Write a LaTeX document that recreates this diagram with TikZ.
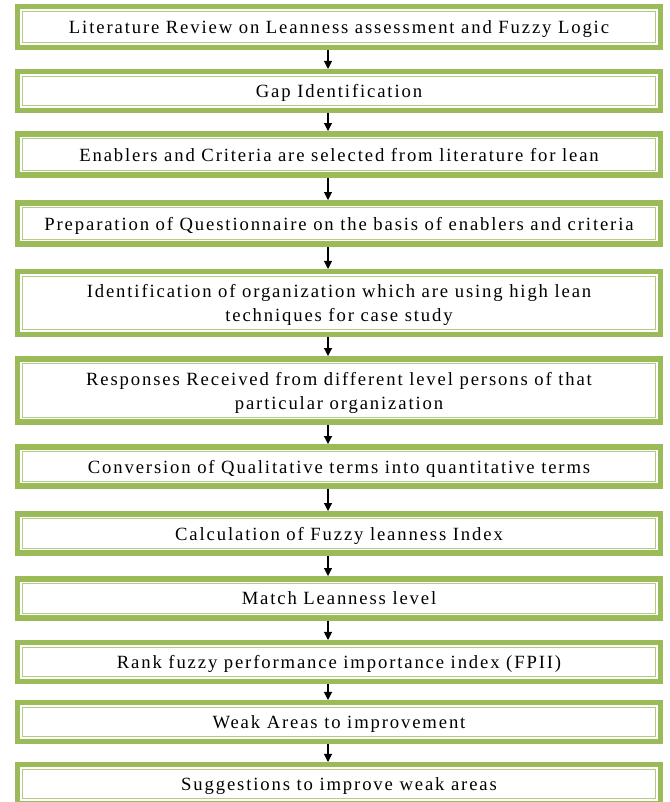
\documentclass[tikz,border=0pt]{standalone}
\usepackage{fontspec}
\setmainfont{Liberation Serif}[LetterSpace=10.0]
\usetikzlibrary{arrows.meta}
\definecolor{grn}{HTML}{9BBB59}
\definecolor{grnl}{HTML}{B3CB84}
\begin{document}
\begin{tikzpicture}[x=0.75pt,y=-0.75pt,
  box/.style={draw=grn, line width=4.125pt, outer sep=2.06pt, minimum width=481.9pt,
    inner sep=0pt, align=center, text depth=0pt, font=\fontsize{14}{18}\selectfont},
  inline/.style={draw=grnl, line width=0.8pt},
  arr/.style={-{Triangle[length=6pt,width=6pt]}, line width=0.8pt, black}]
\clip (0,0) rectangle (670,802);
\coordinate (ax) at (328,0);
\node[box, minimum height=30.4pt] (b1) at (339,27) {Literature Review on Leanness assessment and Fuzzy Logic};
\node[box, minimum height=28.9pt] (b2) at (339,91) {Gap Identification};
\node[box, minimum height=31.1pt] (b3) at (339,154.5) {Enablers and Criteria are selected from literature for lean};
\node[box, minimum height=31.1pt] (b4) at (339,223.5) {Preparation of Questionnaire on the basis of enablers and criteria};
\node[box, minimum height=46.9pt] (b5) at (339,303) {Identification of organization which are using high lean\\techniques for case study};
\node[box, minimum height=47.6pt] (b6) at (339,390.5) {Responses Received from different level persons of that\\particular organization};
\node[box, minimum height=29.6pt] (b7) at (339,466.5) {Conversion of Qualitative terms into quantitative terms};
\node[box, minimum height=29.6pt] (b8) at (339,533.5) {Calculation of Fuzzy leanness Index};
\node[box, minimum height=29.6pt] (b9) at (339,598.5) {Match Leanness level};
\node[box, minimum height=28.9pt] (b10) at (339,662) {Rank fuzzy performance importance index (FPII)};
\node[box, minimum height=28.9pt] (b11) at (339,722) {Weak Areas to improvement};
\node[box, minimum height=28.9pt] (b12) at (339,784) {Suggestions to improve weak areas};
\foreach \n in {b1,b2,b3,b4,b5,b6,b7,b8,b9,b10,b11,b12}
  \draw[inline] ([xshift=5.8pt,yshift=-5.8pt]\n.north west) rectangle ([xshift=-5.8pt,yshift=5.8pt]\n.south east);
\foreach \a/\b in {b1/b2,b2/b3,b3/b4,b4/b5,b5/b6,b6/b7,b7/b8,b8/b9,b9/b10,b10/b11,b11/b12}
  \draw[arr] (\a.south -| ax) -- (\b.north -| ax);
\end{tikzpicture}
\end{document}
